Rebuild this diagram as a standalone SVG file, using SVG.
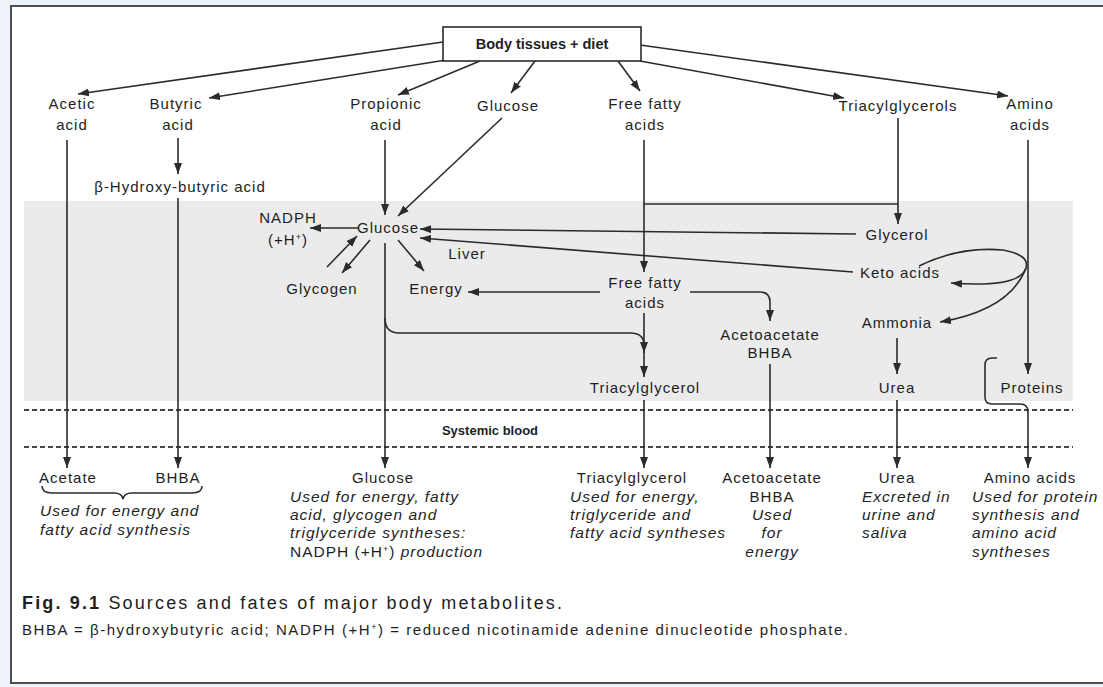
<svg xmlns="http://www.w3.org/2000/svg" width="1103" height="687" viewBox="0 0 1103 687">
  <defs>
    <marker id="arrow" markerUnits="userSpaceOnUse" markerWidth="12" markerHeight="10" refX="11" refY="4" orient="auto">
      <path d="M0,0 L11,4 L0,8 Z" fill="#2b2b2b"/>
    </marker>
    <style>
      text { font-family: "Liberation Sans", Arial, sans-serif; fill: #1e1e1e; }
      .lbl { font-size: 15px; text-anchor: middle; letter-spacing: 1px; }
      .bold { font-weight: bold; letter-spacing: 0; }
      .box { font-size: 14.5px; }
      .sys { font-size: 13px; }
      .note { font-size: 15.5px; font-style: italic; letter-spacing: 1px; }
      .up { font-style: normal; }
      .cap1 { font-size: 18px; }
      .cap2 { font-size: 15px; }
      .edge { fill: none; stroke: #2b2b2b; stroke-width: 1.6; }
      .arr { marker-end: url(#arrow); }
      .dash { stroke: #444; stroke-width: 2; stroke-dasharray: 5 3; }
    </style>
  </defs>

  <!-- page background and frame -->
  <rect x="0" y="0" width="1103" height="687" fill="#eef2fa"/>
  <rect x="11" y="6" width="1100" height="677" fill="#ffffff" stroke="#505050" stroke-width="2"/>

  <!-- liver compartment -->
  <rect id="liver-zone" x="24" y="201" width="1049" height="200" fill="#ebebeb"/>
  <line class="dash" x1="24" y1="410" x2="1073" y2="410"/>
  <line class="dash" x1="24" y1="447" x2="1073" y2="447"/>

  <!-- connectors -->
  <g id="connectors">
    <line class="edge arr" x1="443" y1="42" x2="78" y2="94"/>
    <line class="edge arr" x1="446" y1="60" x2="209" y2="98"/>
    <line class="edge arr" x1="480" y1="61" x2="398" y2="95"/>
    <line class="edge arr" x1="535" y1="61" x2="511" y2="93"/>
    <line class="edge arr" x1="618" y1="61" x2="640" y2="91"/>
    <line class="edge arr" x1="640" y1="61" x2="844" y2="98"/>
    <line class="edge arr" x1="640" y1="45" x2="1008" y2="96"/>

    <line class="edge arr" x1="67" y1="140" x2="67" y2="468"/>
    <line class="edge arr" x1="178" y1="138" x2="178" y2="174"/>
    <line class="edge arr" x1="178" y1="198" x2="178" y2="468"/>
    <line class="edge arr" x1="385" y1="140" x2="385" y2="215"/>
    <line class="edge arr" x1="502" y1="118" x2="398" y2="216"/>

    <line class="edge arr" x1="358" y1="228" x2="310" y2="228"/>
    <line class="edge arr" x1="327" y1="267" x2="357" y2="236"/>
    <line class="edge arr" x1="370" y1="240" x2="342" y2="273"/>
    <line class="edge arr" x1="398" y1="240" x2="424" y2="271"/>
    <line class="edge arr" x1="856" y1="234" x2="420" y2="229"/>
    <line class="edge arr" x1="853" y1="272" x2="420" y2="238"/>

    <line class="edge arr" x1="385" y1="243" x2="385" y2="468"/>
    <path class="edge arr" d="M385,318 Q385,333 399,333 H630 Q644,333 644,345 V353"/>

    <line class="edge arr" x1="644" y1="140" x2="644" y2="272"/>
    <line class="edge" x1="644" y1="204" x2="898" y2="204"/>
    <line class="edge arr" x1="898" y1="118" x2="898" y2="224"/>

    <line class="edge arr" x1="600" y1="292" x2="468" y2="292"/>
    <path class="edge arr" d="M690,292 H760 Q770,292 770,302 V321"/>
    <line class="edge arr" x1="644" y1="313" x2="644" y2="377"/>

    <path class="edge" d="M919,266 Q960,246 1003,250 Q1030,255 1026,268"/>
    <path class="edge arr" d="M1026,268 Q1020,288 951,283"/>
    <path class="edge arr" d="M1026,268 Q1010,310 940,322"/>

    <line class="edge arr" x1="897" y1="338" x2="897" y2="374"/>
    <line class="edge arr" x1="1028" y1="140" x2="1028" y2="374"/>
    <path class="edge arr" d="M997,358 H992 Q985,358 985,365 V397 Q985,404 992,404 H1020 Q1028,404 1028,412 V468"/>

    <line class="edge arr" x1="644" y1="400" x2="644" y2="468"/>
    <line class="edge arr" x1="770" y1="364" x2="770" y2="468"/>
    <line class="edge arr" x1="897" y1="400" x2="897" y2="468"/>

    <!-- brace under acetate and BHBA -->
    <path class="edge" d="M42,486 Q42,493 52,493 H114 Q122,493 123,499 Q124,493 132,493 H192 Q202,493 202,486"/>
  </g>

  <!-- sources -->
  <g id="body-tissues">
    <rect x="443" y="27" width="198" height="34" fill="#ffffff" stroke="#2b2b2b" stroke-width="1.6"/>
    <text class="lbl bold box" x="542" y="49">Body tissues + diet</text>
  </g>
  <g id="acetic-acid"><text class="lbl" x="72" y="109">Acetic</text><text class="lbl" x="72" y="130">acid</text></g>
  <g id="butyric-acid"><text class="lbl" x="176" y="109">Butyric</text><text class="lbl" x="178" y="130">acid</text></g>
  <g id="propionic-acid"><text class="lbl" x="386" y="109">Propionic</text><text class="lbl" x="386" y="130">acid</text></g>
  <g id="glucose-source"><text class="lbl" x="508" y="111">Glucose</text></g>
  <g id="free-fatty-acids-source"><text class="lbl" x="645" y="109">Free fatty</text><text class="lbl" x="645" y="130">acids</text></g>
  <g id="triacylglycerols-source"><text class="lbl" x="898" y="111">Triacylglycerols</text></g>
  <g id="amino-acids-source"><text class="lbl" x="1030" y="109">Amino</text><text class="lbl" x="1030" y="130">acids</text></g>
  <g id="beta-hydroxybutyric"><text class="lbl" x="180" y="192">β-Hydroxy-butyric acid</text></g>

  <!-- liver -->
  <g id="nadph"><text class="lbl" x="288" y="223">NADPH</text><text class="lbl" x="288" y="245">(+H<tspan font-size="9" baseline-shift="super">+</tspan>)</text></g>
  <g id="glucose-liver"><text class="lbl" x="388" y="233">Glucose</text></g>
  <g id="liver-label"><text class="lbl" x="467" y="259">Liver</text></g>
  <g id="glycogen"><text class="lbl" x="322" y="294">Glycogen</text></g>
  <g id="energy"><text class="lbl" x="436" y="294">Energy</text></g>
  <g id="glycerol"><text class="lbl" x="897" y="240">Glycerol</text></g>
  <g id="keto-acids"><text class="lbl" x="900" y="278">Keto acids</text></g>
  <g id="free-fatty-acids-liver"><text class="lbl" x="645" y="288">Free fatty</text><text class="lbl" x="645" y="308">acids</text></g>
  <g id="acetoacetate-liver"><text class="lbl" x="770" y="340">Acetoacetate</text><text class="lbl" x="770" y="358">BHBA</text></g>
  <g id="ammonia"><text class="lbl" x="897" y="328">Ammonia</text></g>
  <g id="triacylglycerol-liver"><text class="lbl" x="645" y="393">Triacylglycerol</text></g>
  <g id="urea-liver"><text class="lbl" x="897" y="393">Urea</text></g>
  <g id="proteins"><text class="lbl" x="1032" y="393">Proteins</text></g>

  <g id="systemic-blood"><text class="lbl bold sys" x="490" y="435">Systemic blood</text></g>

  <!-- fates in blood -->
  <g id="acetate-bhba">
    <text class="lbl" x="68" y="483">Acetate</text>
    <text class="lbl" x="178" y="483">BHBA</text>
    <text class="note" x="40" y="516">Used for energy and</text>
    <text class="note" x="40" y="535">fatty acid synthesis</text>
  </g>
  <g id="glucose-blood">
    <text class="lbl" x="383" y="483">Glucose</text>
    <text class="note" x="290" y="502">Used for energy, fatty</text>
    <text class="note" x="290" y="520">acid, glycogen and</text>
    <text class="note" x="290" y="538">triglyceride syntheses:</text>
    <text class="note" x="290" y="557"><tspan class="up">NADPH (+H<tspan font-size="9" baseline-shift="super">+</tspan>)</tspan> production</text>
  </g>
  <g id="triacylglycerol-blood">
    <text class="lbl" x="632" y="483">Triacylglycerol</text>
    <text class="note" x="570" y="502">Used for energy,</text>
    <text class="note" x="570" y="520">triglyceride and</text>
    <text class="note" x="570" y="538">fatty acid syntheses</text>
  </g>
  <g id="acetoacetate-blood">
    <text class="lbl" x="772" y="483">Acetoacetate</text>
    <text class="lbl" x="772" y="502">BHBA</text>
    <text class="note" x="772" y="520" text-anchor="middle">Used</text>
    <text class="note" x="772" y="538" text-anchor="middle">for</text>
    <text class="note" x="772" y="557" text-anchor="middle">energy</text>
  </g>
  <g id="urea-blood">
    <text class="lbl" x="897" y="483">Urea</text>
    <text class="note" x="862" y="502">Excreted in</text>
    <text class="note" x="862" y="520">urine and</text>
    <text class="note" x="862" y="538">saliva</text>
  </g>
  <g id="amino-acids-blood">
    <text class="lbl" x="1030" y="483">Amino acids</text>
    <text class="note" x="972" y="502">Used for protein</text>
    <text class="note" x="972" y="520">synthesis and</text>
    <text class="note" x="972" y="538">amino acid</text>
    <text class="note" x="972" y="557">syntheses</text>
  </g>

  <!-- caption -->
  <g id="caption">
    <text class="cap1" x="22" y="609" textLength="540" lengthAdjust="spacing"><tspan class="bold">Fig. 9.1</tspan>  Sources and fates of major body metabolites.</text>
    <text class="cap2" x="22" y="635" textLength="826" lengthAdjust="spacing">BHBA = β-hydroxybutyric acid; NADPH (+H<tspan font-size="9" baseline-shift="super">+</tspan>) = reduced nicotinamide adenine dinucleotide phosphate.</text>
  </g>
</svg>
